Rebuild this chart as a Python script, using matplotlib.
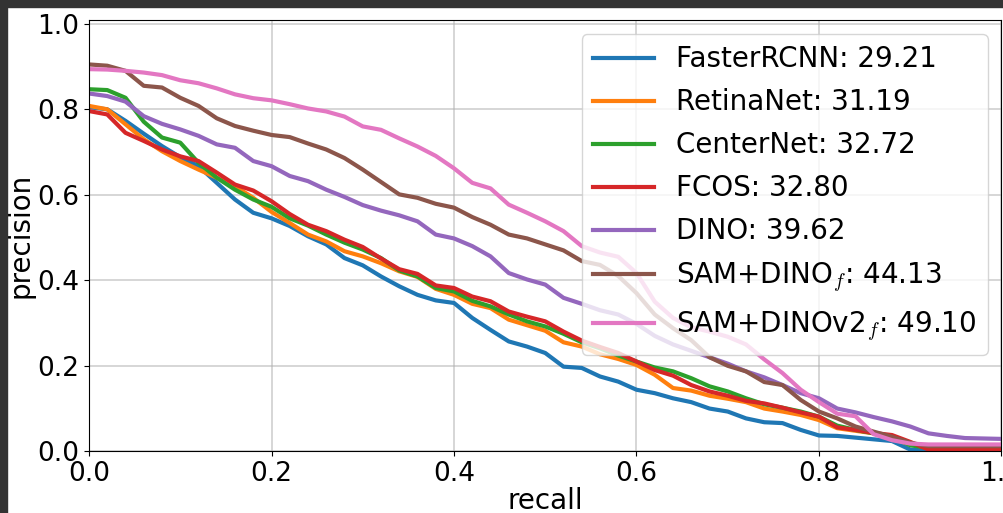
import numpy as np
import matplotlib
matplotlib.use("Agg")
import matplotlib.pyplot as plt
from matplotlib.patches import Rectangle

plt.rcParams["mathtext.fontset"] = "cm"

recall = [round(0.02 * i, 2) for i in range(51)]

faster_rcnn = [0.805, 0.800, 0.773, 0.743, 0.714, 0.688, 0.667, 0.628, 0.589, 0.558,
               0.545, 0.527, 0.503, 0.484, 0.452, 0.435, 0.409, 0.386, 0.366, 0.353,
               0.347, 0.312, 0.284, 0.257, 0.245, 0.230, 0.198, 0.195, 0.175, 0.163,
               0.144, 0.136, 0.124, 0.115, 0.100, 0.093, 0.077, 0.068, 0.066, 0.050,
               0.037, 0.036, 0.032, 0.028, 0.024, 0.004, 0.002, 0.002, 0.002, 0.002, 0.002]
retinanet = [0.808, 0.800, 0.765, 0.730, 0.702, 0.679, 0.659, 0.640, 0.620, 0.593,
             0.560, 0.534, 0.507, 0.491, 0.468, 0.456, 0.440, 0.421, 0.408, 0.380,
             0.366, 0.345, 0.335, 0.308, 0.295, 0.282, 0.255, 0.245, 0.227, 0.216,
             0.202, 0.179, 0.148, 0.142, 0.130, 0.123, 0.115, 0.100, 0.093, 0.085,
             0.073, 0.054, 0.048, 0.042, 0.030, 0.016, 0.008, 0.006, 0.006, 0.006, 0.006]
centernet = [0.847, 0.845, 0.827, 0.771, 0.734, 0.722, 0.675, 0.640, 0.612, 0.589,
             0.572, 0.545, 0.528, 0.507, 0.488, 0.472, 0.452, 0.423, 0.409, 0.382,
             0.374, 0.352, 0.339, 0.320, 0.304, 0.292, 0.275, 0.255, 0.241, 0.224,
             0.210, 0.196, 0.187, 0.171, 0.152, 0.140, 0.124, 0.110, 0.102, 0.093,
             0.081, 0.060, 0.050, 0.042, 0.034, 0.014, 0.008, 0.008, 0.008, 0.008, 0.008]
fcos = [0.796, 0.788, 0.745, 0.726, 0.706, 0.690, 0.679, 0.652, 0.624, 0.610,
        0.585, 0.555, 0.530, 0.515, 0.495, 0.478, 0.451, 0.426, 0.415, 0.388,
        0.382, 0.362, 0.351, 0.327, 0.315, 0.304, 0.280, 0.259, 0.244, 0.230,
        0.210, 0.190, 0.177, 0.155, 0.140, 0.130, 0.118, 0.112, 0.102, 0.091,
        0.081, 0.056, 0.050, 0.043, 0.038, 0.022, 0.004, 0.004, 0.004, 0.004, 0.004]
dino = [0.837, 0.831, 0.818, 0.784, 0.766, 0.753, 0.738, 0.718, 0.710, 0.679,
        0.667, 0.644, 0.632, 0.612, 0.595, 0.576, 0.563, 0.552, 0.538, 0.507,
        0.498, 0.480, 0.456, 0.417, 0.402, 0.390, 0.359, 0.345, 0.330, 0.320,
        0.298, 0.270, 0.250, 0.235, 0.220, 0.205, 0.187, 0.173, 0.155, 0.136,
        0.124, 0.100, 0.091, 0.080, 0.070, 0.058, 0.042, 0.036, 0.031, 0.030, 0.029]
sam_dino = [0.905, 0.902, 0.890, 0.855, 0.851, 0.827, 0.808, 0.779, 0.761, 0.750,
            0.740, 0.735, 0.720, 0.706, 0.686, 0.659, 0.630, 0.601, 0.593, 0.579,
            0.570, 0.548, 0.530, 0.507, 0.498, 0.484, 0.470, 0.445, 0.436, 0.410,
            0.370, 0.320, 0.288, 0.260, 0.220, 0.200, 0.187, 0.162, 0.155, 0.120,
            0.093, 0.077, 0.058, 0.046, 0.034, 0.020, 0.012, 0.012, 0.012, 0.012, 0.012]
sam_dinov2 = [0.894, 0.893, 0.890, 0.886, 0.880, 0.868, 0.861, 0.849, 0.835, 0.826,
              0.821, 0.812, 0.802, 0.795, 0.783, 0.760, 0.752, 0.732, 0.713, 0.691,
              0.662, 0.628, 0.615, 0.577, 0.558, 0.538, 0.515, 0.480, 0.465, 0.455,
              0.417, 0.350, 0.312, 0.290, 0.280, 0.268, 0.250, 0.215, 0.183, 0.144,
              0.115, 0.088, 0.082, 0.040, 0.026, 0.018, 0.016, 0.016, 0.016, 0.016, 0.016]

labels = ["FasterRCNN: 29.21", "RetinaNet: 31.19", "CenterNet: 32.72", "FCOS: 32.80",
          "DINO: 39.62", r"SAM+DINO$_f$: 44.13", r"SAM+DINOv2$_f$: 49.10"]
series = [faster_rcnn, retinanet, centernet, fcos, dino, sam_dino, sam_dinov2]

fig = plt.figure(figsize=(10.04, 5.13), dpi=100)
W, H = 1004, 513
ax = fig.add_axes([89 / W, (H - 451.3) / H, (1001.5 - 89) / W, (451.3 - 20.4) / H])

for s, lab in zip(series, labels):
    ax.plot(recall, s, lw=3, label=lab)

ax.set_xlim(0, 1)
ax.set_ylim(0, 1.008)
ax.set_xticks([0, 0.2, 0.4, 0.6, 0.8, 1.0])
ax.set_yticks([0, 0.2, 0.4, 0.6, 0.8, 1.0])
ax.tick_params(labelsize=19)
ax.grid(True, color="#b0b0b0", lw=1.2, alpha=0.6)
ax.set_xlabel("recall", fontsize=20, labelpad=0)
ax.set_ylabel("precision", fontsize=20, labelpad=2)
ax.legend(loc="upper right", fontsize=20, handlelength=2.2, labelspacing=0.54)

# dark screenshot frame on top and left
fig.add_artist(Rectangle((0, (H - 7) / H), 1, 7 / H, transform=fig.transFigure,
                         color="#333333", zorder=10))
fig.add_artist(Rectangle((0, 0), 7 / W, 1, transform=fig.transFigure,
                         color="#333333", zorder=10))

fig.savefig("out.png", dpi=100)
